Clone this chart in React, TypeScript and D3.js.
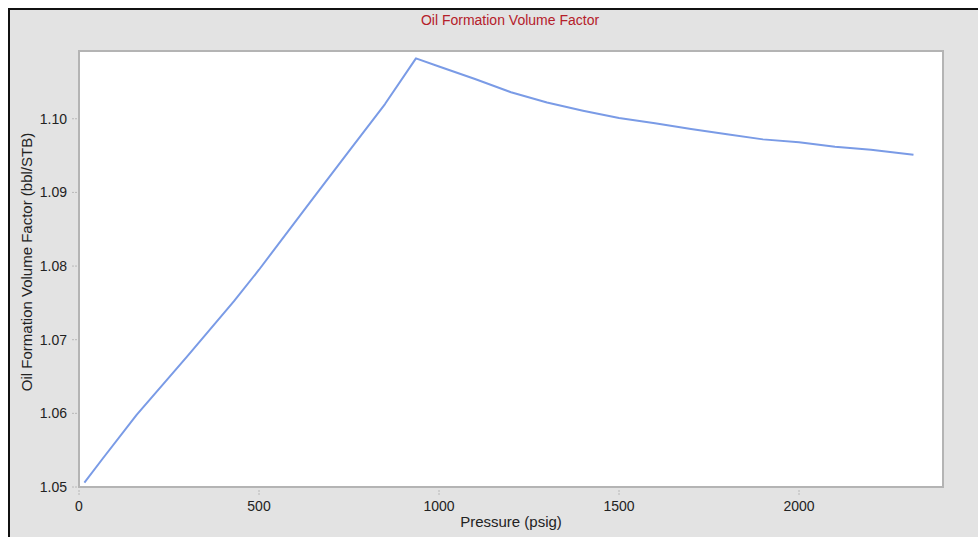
import React from "react";
import * as d3 from "d3";

const pressure = [15, 65, 160, 300, 430, 500, 650, 750, 850, 936, 1000, 1100, 1200, 1300, 1400, 1500, 1600, 1700, 1800, 1900, 2000, 2100, 2200, 2318];
const bo = [1.0506, 1.0538, 1.0598, 1.0677, 1.0752, 1.0795, 1.0892, 1.0956, 1.102, 1.1082, 1.1071, 1.1054, 1.1036, 1.1022, 1.1011, 1.1001, 1.0994, 1.0986, 1.0979, 1.0972, 1.0968, 1.0962, 1.0958, 1.0951];
const xTicks = [0, 500, 1000, 1500, 2000];
const yTicks = [1.05, 1.06, 1.07, 1.08, 1.09, 1.1];
const title = "Oil Formation Volume Factor";
const xTitle = "Pressure (psig)";
const yTitle = "Oil Formation Volume Factor (bbl/STB)";

const W = 978, H = 537;
const L = 79, R = 943, T = 51, B = 487;

export default function App() {
  const x = d3.scaleLinear().domain([0, 2400]).range([L, R]);
  const y = d3.scaleLinear().domain([1.05, 1.1092]).range([B, T]);
  const line = d3.line<number>().x((_, i) => x(pressure[i])).y((d) => y(d));
  const font = "'Liberation Sans', Arial, sans-serif";
  return (
    <svg width={W} height={H} style={{ position: "absolute", left: 0, top: 0 }} fontFamily={font}>
      <rect x={0} y={0} width={W} height={H} fill="#ffffff" />
      <rect x={8} y={8} width={W - 8} height={H - 8} fill="#e3e3e3" />
      <line x1={9} y1={8} x2={9} y2={H} stroke="#111" strokeWidth={2} />
      <line x1={8} y1={9} x2={W} y2={9} stroke="#111" strokeWidth={2} />
      <text x={510} y={25} textAnchor="middle" fontSize={14} fill="#b5202a">{title}</text>
      <rect x={L} y={T} width={R - L} height={B - T} fill="#ffffff" stroke="#b4b4b4" strokeWidth={2} />
      {yTicks.map((t) => (
        <g key={"y" + t}>
          <line x1={72} x2={77} y1={y(t)} y2={y(t)} stroke="#b8b8b8" strokeWidth={1} strokeDasharray="2,1" />
          <text x={67} y={y(t) + 5} textAnchor="end" fontSize={14} fill="#222">{t.toFixed(2)}</text>
        </g>
      ))}
      {xTicks.map((t) => (
        <g key={"x" + t}>
          <line x1={x(t)} x2={x(t)} y1={490} y2={495} stroke="#b8b8b8" strokeWidth={1} strokeDasharray="2,1" />
          <text x={x(t)} y={511} textAnchor="middle" fontSize={14} fill="#222">{t}</text>
        </g>
      ))}
      <text x={511} y={527} textAnchor="middle" fontSize={15} fill="#222">{xTitle}</text>
      <text transform={`translate(32,262) rotate(-90)`} textAnchor="middle" fontSize={15} fill="#222">{yTitle}</text>
      <path d={line(bo) || ""} fill="none" stroke="#7a9be6" strokeWidth={2} strokeLinejoin="round" />
    </svg>
  );
}
